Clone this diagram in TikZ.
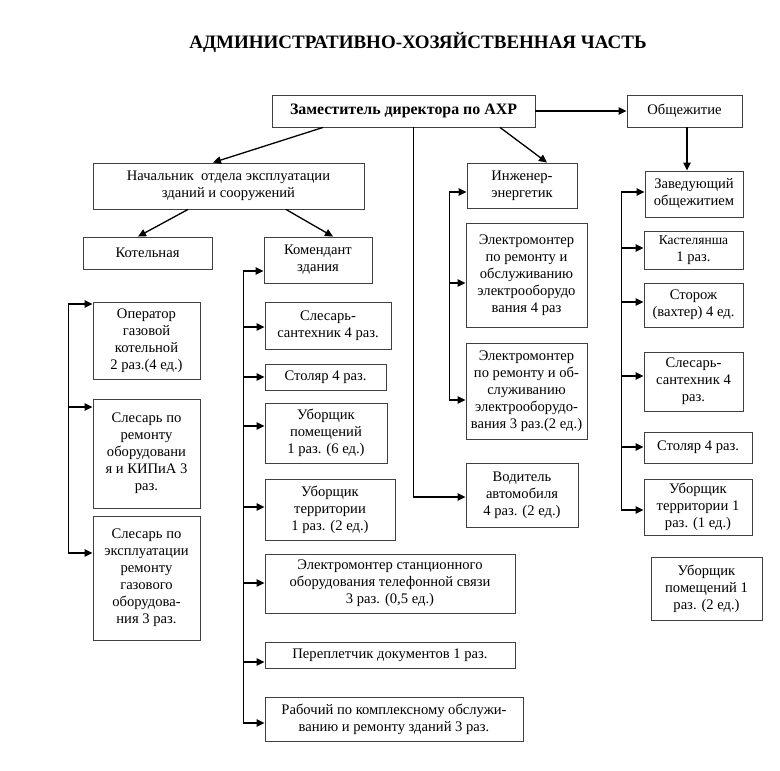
\documentclass[tikz,border=0pt]{standalone}
\usepackage{fontspec}
\setmainfont{Liberation Serif}
\usetikzlibrary{arrows.meta,calc}
\tikzset{
  box/.style={draw=black!75, line width=0.9pt, align=center, inner sep=0pt,
    font=\fontsize{14.6}{17}\selectfont, text=black},
  arr/.style={line width=1.3pt, -{Triangle[length=8pt,width=7.5pt]}},
  bus/.style={line width=1pt},
}
\newcommand\boxat[6]{%
  \node[box, minimum width={(#4-#2)*1pt}, minimum height={(#5-#3)*1pt}]
    (#1) at ({(#2+#4)/2},{(#3+#5)/2}) {#6};}
\begin{document}
\begin{tikzpicture}[x=1pt,y=-1pt]
\useasboundingbox[fill=white] (0,0) rectangle (780,771);
\node[font=\fontsize{19}{22}\selectfont\bfseries] (title) at (418,42) {АДМИНИСТРАТИВНО-ХОЗЯЙСТВЕННАЯ ЧАСТЬ};

\boxat{zam}{272}{95}{535}{127}{\fontsize{15.9}{18}\selectfont\bfseries Заместитель директора по АХР}
\boxat{obsh}{627}{95}{742}{127}{Общежитие}
\boxat{nach}{93}{163}{364}{209}{Начальник\ \ отдела эксплуатации\\зданий и сооружений}
\boxat{kot}{83}{237}{212}{269}{Котельная}
\boxat{kom}{264}{237}{372}{283}{Комендант\\здания}
\boxat{ing}{467}{163}{577}{208}{Инженер-\\энергетик}
\boxat{zav}{645}{171}{743}{217}{Заведующий\\общежитием}

% left column
\boxat{op}{93}{302}{200}{379}{Оператор\\газовой\\котельной\\2 раз.(4 ед.)}
\boxat{slr}{93}{399}{200}{508}{Слесарь по\\ремонту\\оборудовани\\я и КИПиА 3\\раз.}
\boxat{sle}{93}{516}{200}{640}{Слесарь по\\эксплуатации\\ремонту\\газового\\оборудова-\\ния 3 раз.}

% komendant column
\boxat{ks1}{265}{302}{391}{349}{Слесарь-\\сантехник 4 раз.}
\boxat{ks2}{265}{364}{386}{390}{Столяр 4 раз.}
\boxat{ks3}{265}{403}{387}{463}{Уборщик\\помещений\\1 раз. (6 ед.)}
\boxat{ks4}{265}{479}{395}{540}{Уборщик\\территории\\1 раз. (2 ед.)}
\boxat{ks5}{265}{554}{515}{613}{Электромонтер станционного\\оборудования телефонной связи\\3 раз. (0,5 ед.)}
\boxat{ks6}{265}{642}{515}{668}{Переплетчик документов 1 раз.}
\boxat{ks7}{265}{697}{523}{741}{Рабочий по комплексному обслужи-\\ванию и ремонту зданий 3 раз.}

% engineer column
\boxat{e1}{466}{223}{587}{327}{Электромонтер\\по ремонту и\\обслуживанию\\электрооборудо\\вания 4 раз}
\boxat{e2}{466}{343}{587}{439}{Электромонтер\\по ремонту и об-\\служиванию\\электрооборудо-\\вания 3 раз.(2 ед.)}
\boxat{vod}{466}{463}{578}{527}{Водитель\\автомобиля\\4 раз. (2 ед.)}

% dormitory column
\boxat{kas}{644}{231}{743}{269}{\fontsize{13.5}{16}\selectfont Кастелянша\\1 раз.}
\boxat{sto}{644}{283}{743}{327}{Сторож\\(вахтер) 4 ед.}
\boxat{ss}{644}{352}{743}{411}{Слесарь-\\сантехник 4\\раз.}
\boxat{stol}{644}{432}{752}{463}{Столяр 4 раз.}
\boxat{ubt}{644}{479}{752}{535}{Уборщик\\территории 1\\раз. (1 ед.)}
\boxat{ubp}{651}{557}{762}{620}{Уборщик\\помещений 1\\раз. (2 ед.)}

% top connectors
\draw[arr] (zam.east) -- (obsh.west);
\draw[arr] (zam.south -| 323,0) -- (nach.north -| 213,0);
\draw[arr] (nach.south -| 188,0) -- (kot.north -| 138,0);
\draw[arr] (nach.south -| 286,0) -- (kom.north -| 333,0);
\draw[arr] (zam.south -| 500,0) -- (ing.north -| 547,0);
\draw[arr] (obsh.south -| 687,0) -- (zav.north -| 687,0);

% left bus
\coordinate (lb1) at (68,304);
\coordinate (lb2) at (68,407);
\coordinate (lb3) at (68,553);
\draw[bus] (lb1) -- (lb3);
\draw[arr] (lb1) -- (lb1 -| op.west);
\draw[arr] (lb2) -- (lb2 -| slr.west);
\draw[arr] (lb3) -- (lb3 -| sle.west);

% komendant bus
\coordinate (kb0) at (243,271);
\coordinate (kb1) at (243,327);
\coordinate (kb2) at (243,377);
\coordinate (kb3) at (243,426);
\coordinate (kb4) at (243,507);
\coordinate (kb5) at (243,583);
\coordinate (kb6) at (243,662);
\coordinate (kb7) at (243,723);
\draw[bus] (kb0) -- (kb7);
\draw[arr] (kb0) -- (kb0 -| kom.west);
\draw[arr] (kb1) -- (kb1 -| ks1.west);
\draw[arr] (kb2) -- (kb2 -| ks2.west);
\draw[arr] (kb3) -- (kb3 -| ks3.west);
\draw[arr] (kb4) -- (kb4 -| ks4.west);
\draw[arr] (kb5) -- (kb5 -| ks5.west);
\draw[arr] (kb6) -- (kb6 -| ks6.west);
\draw[arr] (kb7) -- (kb7 -| ks7.west);

% zam to driver
\coordinate (zb) at (413,497);
\draw[bus] (zam.south -| zb) -- (zb);
\draw[arr] (zb) -- (zb -| vod.west);

% engineer bus
\coordinate (eb0) at (449,192);
\coordinate (eb1) at (449,283);
\coordinate (eb2) at (449,400);
\draw[bus] (eb0) -- (eb2);
\draw[arr] (eb0) -- (eb0 -| ing.west);
\draw[arr] (eb1) -- (eb1 -| e1.west);
\draw[arr] (eb2) -- (eb2 -| e2.west);

% dormitory bus
\coordinate (db0) at (621,192);
\coordinate (db1) at (621,248);
\coordinate (db2) at (621,302);
\coordinate (db3) at (621,376);
\coordinate (db4) at (621,447);
\coordinate (db5) at (621,510);
\draw[bus] (db0) -- (db5);
\draw[arr] (db0) -- (db0 -| zav.west);
\draw[arr] (db1) -- (db1 -| kas.west);
\draw[arr] (db2) -- (db2 -| sto.west);
\draw[arr] (db3) -- (db3 -| ss.west);
\draw[arr] (db4) -- (db4 -| stol.west);
\draw[arr] (db5) -- (db5 -| ubt.west);
\end{tikzpicture}
\end{document}
